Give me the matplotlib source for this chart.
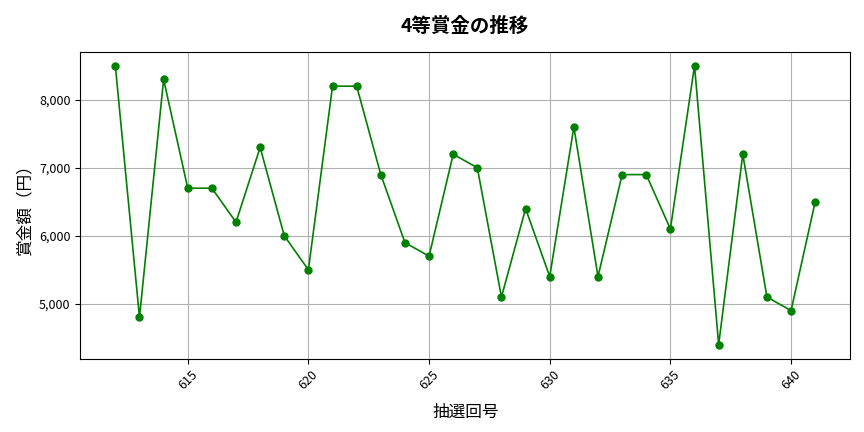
import matplotlib
matplotlib.use("Agg")
import matplotlib.pyplot as plt

plt.rcParams['font.family'] = ['Noto Sans CJK JP', 'DejaVu Sans']

draws = list(range(612, 642))
prizes = [8500, 4800, 8300, 6700, 6700, 6200, 7300, 6000, 5500, 8200,
          8200, 6900, 5900, 5700, 7200, 7000, 5100, 6400, 5400, 7600,
          5400, 6900, 6900, 6100, 8500, 4400, 7200, 5100, 4900, 6500]

fig, ax = plt.subplots(figsize=(8.64, 4.32), dpi=100)
ax.plot(draws, prizes, color='green', marker='o', markersize=5, linewidth=1.2)
ax.set_title('4等賞金の推移', fontsize=14, fontweight='bold', pad=14)
ax.set_xlabel('抽選回号', fontsize=12, labelpad=8)
ax.set_ylabel('賞金額（円）', fontsize=12)
ax.grid(True, color='#b0b0b0', linewidth=0.8)
ax.yaxis.set_major_formatter(matplotlib.ticker.FuncFormatter(lambda v, p: f'{int(v):,}'))
ax.tick_params(axis='x', labelrotation=45, labelsize=9)
ax.tick_params(axis='y', labelsize=9)
fig.subplots_adjust(left=0.093, right=0.984, top=0.88, bottom=0.17)
fig.savefig('out.png')
